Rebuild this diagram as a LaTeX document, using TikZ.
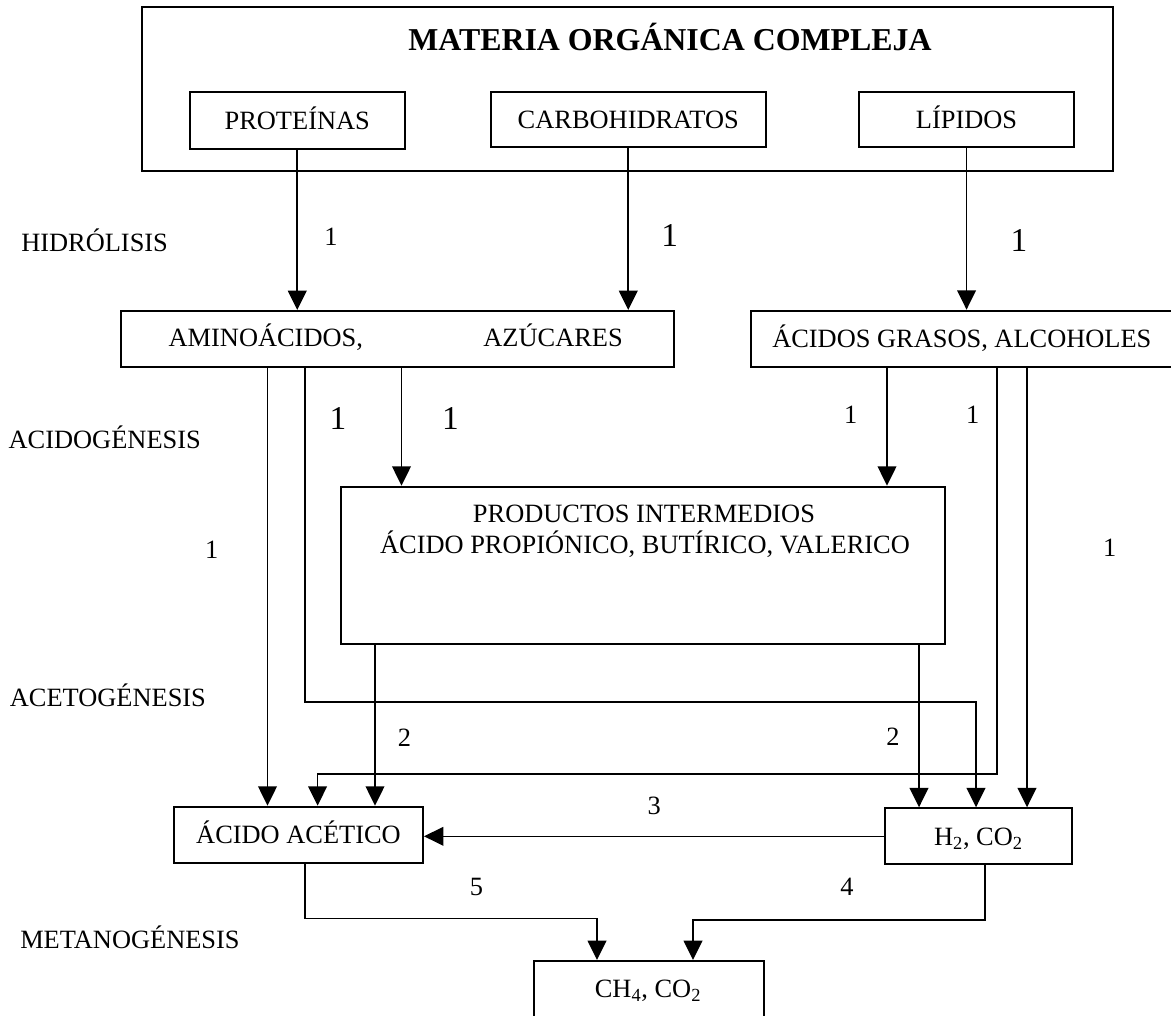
\documentclass[tikz,border=0pt]{standalone}
\usepackage{fontspec}
\setmainfont{Liberation Serif}
\usetikzlibrary{arrows.meta,fit}
\begin{document}
\begin{tikzpicture}[x=0.75pt,y=-0.75pt,
  font=\fontsize{19.8}{24}\selectfont,
  box/.style={draw, line width=1.5pt, inner sep=0pt},
  txt/.style={inner sep=0pt, text height=13.1pt, text depth=0pt},
  big/.style={inner sep=0pt, text height=16.9pt, text depth=0pt, font=\fontsize{25}{30}\selectfont},
  conn/.style={line width=1.2pt, -{Triangle[length=14.5pt,width=14pt]}}]
\useasboundingbox (0,0) rectangle (1171,1016);
\clip (0,0) rectangle (1171,1016);

% boxes
\node[box, fit={(141.6,6.7) (1113.4,170.7)}] (mat) {};
\node[inner sep=0pt, text height=15.8pt, text depth=0pt, font=\fontsize{23.9}{28}\selectfont\bfseries] (title) at (670,40) {MATERIA ORGÁNICA COMPLEJA};
\node[box, fit={(190,92.3) (404.5,148.7)}] (prot) {};
\node[txt] (prott) at (prot.center) {PROTEÍNAS};
\node[box, fit={(491,92.3) (765.5,146.7)}] (carb) {};
\node[txt] (carbt) at (carb.center) {CARBOHIDRATOS};
\node[box, fit={(859.3,92.3) (1073.8,146.7)}] (lip) {};
\node[txt] (lipt) at (lip.center) {LÍPIDOS};
\node[box, fit={(120.5,311) (673.5,366.7)}] (amino) {};
\node[txt] (aminot) at (265.8,338) {AMINOÁCIDOS,};
\node[txt] (azuc) at (553.1,338) {AZÚCARES};
\node[box, fit={(750.7,310.7) (1173,366.7)}] (acgr) {};
\node[txt] (acgrt) at (acgr.center) {ÁCIDOS GRASOS, ALCOHOLES};
\node[box, fit={(340.6,486.7) (944.9,644.3)}] (prod) {};
\node[txt] (prod1) at (644,513.3) {PRODUCTOS INTERMEDIOS};
\node[txt] (prod2) at (645,545) {ÁCIDO PROPIÓNICO, BUTÍRICO, VALERICO};
\node[box, fit={(174,806.7) (423,862.7)}] (acac) {};
\node[txt] (acact) at (acac.center) {ÁCIDO ACÉTICO};
\node[box, fit={(884.6,808.3) (1071.9,864.3)}] (h2) {};
\node[txt] (h2t) at (978.4,836.3) {H\textsubscript{2}, CO\textsubscript{2}};
\node[box, fit={(534.3,961) (763.6,1017)}] (ch4) {};
\node[txt] (ch4t) at (648,989) {CH\textsubscript{4}, CO\textsubscript{2}};

% stage labels
\node[txt, anchor=west] (hid) at (21,243) {HIDRÓLISIS};
\node[txt, anchor=west] (acid) at (8.4,440) {ACIDOGÉNESIS};
\node[txt, anchor=west] (acet) at (9.6,698) {ACETOGÉNESIS};
\node[txt, anchor=west] (met) at (20,940) {METANOGÉNESIS};

% numbers
\node[txt] (n1a) at (331,237) {1};
\node[big] (n1b) at (669.7,235) {1};
\node[big] (n1c) at (1019,240) {1};
\node[big] (n1d) at (338,418) {1};
\node[big] (n1e) at (450.4,418) {1};
\node[txt] (n1f) at (850.6,415) {1};
\node[txt] (n1g) at (972.8,415) {1};
\node[txt] (n1h) at (211.6,550) {1};
\node[txt] (n1i) at (1109.6,548) {1};
\node[txt] (n2a) at (404.5,738) {2};
\node[txt] (n2b) at (892.9,737) {2};
\node[txt] (n3) at (654.3,806) {3};
\node[txt] (n4) at (846.9,887) {4};
\node[txt] (n5) at (476.5,887) {5};

% connectors
\draw[conn] (prot.south) -- (prot.south |- amino.north);
\draw[conn] (carb.south) -- (carb.south |- amino.north);
\draw[conn] (lip.south) -- (lip.south |- acgr.north);
\draw[conn] (amino.south -| 267.5,0) -- (acac.north -| 267.5,0);
\draw[conn] (amino.south -| 305,0) |- (976,702) -- (h2.north -| 976,0);
\draw[conn] (amino.south -| 401.5,0) -- (prod.north -| 401.5,0);
\draw[conn] (acgr.south -| 887,0) -- (prod.north -| 887,0);
\draw[conn] (acgr.south -| 997,0) |- (317.6,774) -- (acac.north -| 317.6,0);
\draw[conn] (acgr.south -| 1027,0) -- (h2.north -| 1027,0);
\draw[conn] (prod.south -| 375,0) -- (acac.north -| 375,0);
\draw[conn] (prod.south -| 919,0) -- (h2.north -| 919,0);
\draw[conn] (h2.west) -- (h2.west -| acac.east);
\draw[conn] (acac.south -| 305,0) |- (597,918.3) -- (ch4.north -| 597,0);
\draw[conn] (h2.south -| 985,0) |- (693,920) -- (ch4.north -| 693,0);
\end{tikzpicture}
\end{document}
